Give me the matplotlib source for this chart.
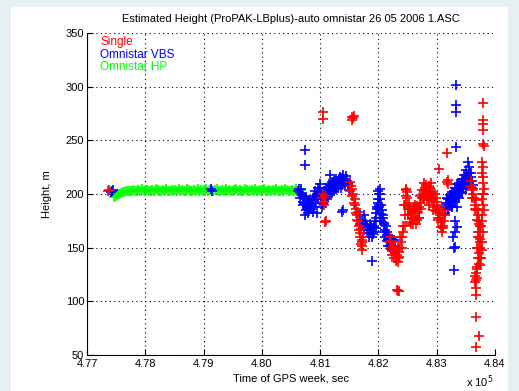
import matplotlib
matplotlib.use("Agg")
import matplotlib.pyplot as plt
from matplotlib.patches import Rectangle
from matplotlib.ticker import ScalarFormatter

plt.rcParams["font.family"] = ["Liberation Sans", "DejaVu Sans"]

# ── data (time of GPS week in s, height in m) ────────────────────────────────
# Omnistar HP
hp_t = [477460, 477490, 477520, 477550, 477580, 477610, 477640, 477670, 477700, 477730,
        477760, 477790, 477820, 477850, 477880, 477910, 477940, 477970, 478000, 478030,
        478060, 478090, 478120, 478150, 478180, 478210, 478240, 478270, 478300, 478330,
        478360, 478390, 478420, 478450, 478480, 478510, 478540, 478570, 478600, 478630,
        478660, 478690, 478720, 478750, 478780, 478810, 478840, 478870, 478900, 478930,
        478960, 478990, 479020, 479050, 479080, 479110, 479140, 479170, 479200, 479230,
        479260, 479290, 479320, 479350, 479380, 479410, 479440, 479470, 479500, 479530,
        479560, 479590, 479620, 479650, 479680, 479710, 479740, 479770, 479800, 479830,
        479860, 479890, 479920, 479950, 479980, 480010, 480040, 480070, 480100, 480130,
        480160, 480190, 480220, 480250, 480280, 480310, 480340, 480370, 480400, 480430,
        480460, 480490, 480520, 480550, 480580, 480610, 480640, 480670]
hp_h = [197, 198, 199, 200, 201, 202, 202, 203, 203, 203,
        203, 204, 203, 203, 204, 203, 205, 203, 203, 204,
        203, 203, 204, 203, 205, 204, 203, 203, 204, 203,
        205, 203, 203, 204, 203, 204, 203, 205, 203, 204,
        203, 203, 205, 204, 203, 203, 204, 203, 205, 203,
        204, 203, 203, 205, 203, 204, 203, 203, 204, 205,
        203, 203, 204, 203, 205, 203, 204, 203, 203, 204,
        205, 203, 204, 203, 203, 205, 204, 203, 203, 204,
        203, 205, 203, 204, 203, 204, 205, 203, 203, 204,
        203, 204, 203, 205, 203, 203, 204, 203, 205, 204,
        203, 203, 204, 203, 205, 203, 203, 204]

# Omnistar VBS
vbs_t = [477420, 477430, 477440, 479130, 479140, 480620, 480640,
         # first block
         480650, 480680, 480700, 480720, 480740, 480760, 480780, 480800, 480820,
         480840, 480860, 480880, 480900, 480920, 480940, 480960, 480980, 481000,
         481020, 481040, 481060, 481080, 481100, 481120, 481140, 481160, 481180,
         481200, 481220, 481240, 481260, 481280, 481300, 481320, 481340, 481360,
         481380, 481400, 481420, 481440, 481460, 481480, 481500,
         480700, 480760, 480800, 480880, 480960, 481040, 481120, 481200, 481280,
         481360,
         480660, 480690, 480710, 480730, 480750, 480770, 480790, 480810, 480830,
         480850, 480870, 480890, 480910, 480930, 480950, 480970, 480990, 481010,
         481030, 481050, 481070, 481090, 481110, 481130, 481150, 481170, 481190,
         481210, 481230, 481250, 481270, 481290, 481310, 481330, 481350, 481370,
         481390, 481410, 481430, 481450, 481470, 481490,
         480739, 480739, 480739, 480945, 481390, 481380, 481170, 481888,
         # second block
         481680, 481710, 481740, 481770, 481800, 481830, 481860, 481880, 481900,
         481920, 481940, 481960, 481980, 482000, 482010, 482020, 482040, 482060,
         482080, 482100, 482120, 482140, 482160, 482180, 482200, 482220, 482240,
         482260,
         481750, 481850, 481950, 482000, 482030, 482050, 482090, 482150, 481990,
         482020,
         481690, 481720, 481750, 481780, 481810, 481840, 481870, 481890, 481910,
         481930, 481950, 481970, 481990, 482005, 482015, 482030, 482050, 482070,
         482090, 482110, 482130, 482150, 482170, 482190, 482210, 482230, 482250,
         # third block
         483140, 483160, 483180, 483200, 483220, 483240, 483260, 483280, 483300,
         483320, 483340, 483360, 483380, 483400, 483420, 483440, 483460, 483480,
         483500, 483520, 483540, 483560, 483580, 483600, 483620,
         483200, 483260, 483320, 483380, 483440, 483500, 483560,
         483150, 483170, 483190, 483210, 483230, 483250, 483270, 483290, 483310,
         483330, 483350, 483370, 483390, 483410, 483430, 483450, 483470, 483490,
         483510, 483530, 483550, 483570, 483590, 483610,
         483328, 483328, 483328, 483328, 483530, 483311, 483277, 483346, 483300,
         483290, 483320, 483310, 483340]
vbs_h = [202, 203, 204, 205, 203, 203, 205,
         201, 205, 198, 196, 192, 195, 190, 188, 191,
         186, 190, 194, 198, 203, 200, 206, 204, 201,
         197, 195, 198, 203, 206, 201, 205, 209, 207,
         211, 208, 212, 210, 214, 211, 213, 216, 212,
         215, 218, 214, 217, 212, 210, 207,
         190, 185, 182, 188, 195, 188, 195, 203, 205,
         206,
         196, 200, 193, 191, 197, 189, 186, 194, 186,
         192, 183, 188, 192, 196, 199, 198, 209, 196,
         192, 191, 203, 198, 201, 197, 200, 204, 202,
         207, 203, 208, 206, 209, 206, 209, 210, 208,
         211, 212, 210, 213, 209, 204,
         241, 227, 180, 182, 185, 183, 218, 138,
         180, 176, 172, 175, 170, 167, 164, 168, 163,
         170, 175, 182, 188, 195, 200, 195, 190, 185,
         180, 172, 166, 162, 158, 160, 155, 153, 150,
         157,
         180, 172, 168, 186, 178, 175, 165, 165, 203,
         205,
         172, 170, 166, 170, 164, 160, 170, 160, 168,
         165, 178, 186, 192, 190, 188, 200, 181, 178,
         173, 160, 170, 156, 152, 152, 149, 158, 148,
         188, 192, 190, 195, 193, 197, 195, 200, 198,
         203, 201, 205, 203, 208, 206, 211, 209, 214,
         212, 217, 215, 220, 216, 212, 208,
         186, 188, 193, 196, 201, 205, 208,
         182, 196, 185, 190, 199, 190, 202, 194, 206,
         197, 209, 199, 210, 202, 214, 205, 218, 208,
         222, 211, 225, 212, 220, 206,
         302, 283, 276, 244, 230, 151, 160, 169, 129,
         150, 175, 165, 188]

# Single
single_t = [477360, 477370,
            481030, 481050, 481070, 481060, 481090, 481080, 481100,
            481050, 481050, 481540, 481560, 481580, 481550,
            481510, 481530, 481545, 481570, 481590, 481600, 481620, 481640, 481650,
            481660, 481680, 481690, 481710, 481720, 481730, 481700,
            481520, 481555, 481580, 481610, 481630, 481645, 481670, 481695, 481715,
            481725,
            482190, 482210, 482230, 482250, 482280, 482300, 482320, 482340, 482350,
            482360, 482380, 482330,
            482200, 482220, 482240, 482260, 482270, 482290, 482310, 482330, 482350,
            482370,
            482334, 482350, 482320,
            482410, 482430, 482450, 482460, 482470, 482480, 482490, 482500, 482520,
            482540, 482560, 482580, 482600, 482630, 482660, 482680, 482700, 482720,
            482740, 482760, 482780, 482800, 482830, 482850, 482870, 482890, 482910,
            482930, 482950, 482980, 483000, 483020, 483040, 483060, 483080, 483100,
            483120, 483140,
            482450, 482500, 482560, 482620, 482700, 482780, 482860, 482940, 483020,
            483090,
            482400, 482420, 482440, 482470, 482490, 482510, 482530, 482550, 482570,
            482590, 482610, 482640, 482650, 482670, 482690, 482710, 482730, 482750,
            482770, 482790, 482810, 482820, 482840, 482860, 482880, 482900, 482920,
            482940, 482960, 482970, 482990, 483010, 483030, 483050, 483070, 483090,
            483110, 483130,
            483037, 483174, 483191, 483191, 483180,
            483580, 483600, 483620, 483640, 483660, 483680, 483700, 483720, 483740,
            483750, 483740, 483720, 483700, 483690, 483680, 483670, 483660, 483690,
            483710, 483760, 483780, 483790, 483800, 483790, 483800, 483810, 483790,
            483780, 483770, 483760, 483750, 483680,
            483590, 483610, 483630, 483650, 483670, 483690, 483710, 483730, 483745,
            483735, 483725, 483705, 483695, 483685, 483675, 483665, 483700, 483720,
            483740, 483770, 483785, 483795, 483805, 483795, 483785, 483775,
            483800, 483790, 483800, 483790, 483800, 483810, 483680, 483720, 483680]
single_h = [203, 204,
            196, 200, 193, 190, 198, 174, 175,
            276, 270, 272, 271, 273, 269,
            211, 207, 205, 200, 195, 190, 186, 180, 175,
            170, 164, 160, 157, 152, 160, 167,
            203, 198, 192, 182, 176, 183, 166, 153, 148,
            155,
            155, 150, 147, 152, 145, 148, 143, 140, 146,
            150, 155, 137,
            160, 156, 143, 147, 140, 152, 138, 150, 141,
            160,
            110, 110, 111,
            160, 170, 180, 190, 198, 204, 196, 188, 192,
            186, 181, 178, 183, 179, 176, 183, 188, 192,
            196, 200, 204, 206, 203, 198, 202, 206, 200,
            197, 193, 196, 190, 186, 182, 178, 174, 170,
            175, 180,
            170, 180, 172, 190, 178, 195, 190, 185, 178,
            165,
            150, 165, 190, 205, 202, 180, 186, 174, 184,
            172, 188, 172, 183, 189, 178, 198, 186, 204,
            196, 210, 198, 208, 194, 207, 196, 210, 194,
            202, 188, 200, 184, 193, 176, 185, 169, 180,
            168, 185,
            223, 238, 213, 209, 211,
            207, 204, 200, 196, 190, 185, 180, 172, 165,
            158, 150, 145, 140, 132, 126, 120, 118, 150,
            160, 170, 180, 190, 200, 210, 216, 205, 165,
            155, 148, 140, 134, 106,
            212, 196, 205, 186, 194, 176, 186, 160, 170,
            140, 135, 150, 122, 130, 112, 124, 165, 175,
            155, 195, 175, 200, 185, 225, 220, 230,
            285, 269, 265, 260, 247, 245, 85, 68, 57]

x_ticks = [477000, 478000, 479000, 480000, 481000, 482000, 483000, 484000]
y_ticks = [50, 100, 150, 200, 250, 300, 350]

RED, BLUE, GREEN = "#ff0000", "#0000ff", "#00ff00"

# ── figure ──────────────────────────────────────────────────────────────────
fig = plt.figure(figsize=(5.19, 3.91), dpi=100, facecolor="#e6eff1")
fig.patches.append(Rectangle((11 / 519, 0), 497 / 519, 384 / 391,
                             transform=fig.transFigure, facecolor="white",
                             edgecolor="none", zorder=-5))

ax = fig.add_axes([87 / 519, 1 - 355 / 391, 408 / 519, 322 / 391])
ax.set_zorder(2)
ax.set_facecolor("white")

mk = dict(linestyle="none", marker="+", markersize=7, markeredgewidth=1.2)
ax.plot(hp_t, hp_h, color=GREEN, **mk)
ax.plot(vbs_t, vbs_h, color=BLUE, **mk)
ax.plot(single_t, single_h, color=RED, **mk)

ax.set_xlim(477000, 484000)
ax.set_ylim(50, 350)
ax.set_xticks(x_ticks)
ax.set_yticks(y_ticks)

fmt = ScalarFormatter(useMathText=False)
fmt.set_powerlimits((0, 0))
fmt.set_useOffset(False)
ax.xaxis.set_major_formatter(fmt)
ax.xaxis.get_offset_text().set_visible(False)

ax.grid(True, linestyle=(0, (1, 3)), color="black", linewidth=0.8)
for s in ("top", "right"):
    ax.spines[s].set_visible(False)
for s in ("left", "bottom"):
    ax.spines[s].set_linewidth(0.8)
ax.tick_params(direction="in", length=4, width=0.8, labelsize=8, pad=2)
ax.tick_params(axis="x", pad=3)

ax.set_title("Estimated Height (ProPAK-LBplus)-auto omnistar 26 05 2006 1.ASC",
             fontsize=8, pad=8)
ax.set_xlabel("Time of GPS week, sec", fontsize=8, labelpad=3)
ax.set_ylabel("Height, m", fontsize=8, labelpad=10)

fig.text(466 / 519, 1 / 391, r"x 10$^5$", fontsize=8, ha="left", va="bottom")

for y, label, c in [(0.972, "Single", RED), (0.933, "Omnistar VBS", BLUE),
                    (0.894, "Omnistar HP", GREEN)]:
    ax.text(0.032, y, label, transform=ax.transAxes, color=c, fontsize=8.5,
            ha="left", va="center")

fig.savefig("out.png", dpi=100, facecolor=fig.get_facecolor())
